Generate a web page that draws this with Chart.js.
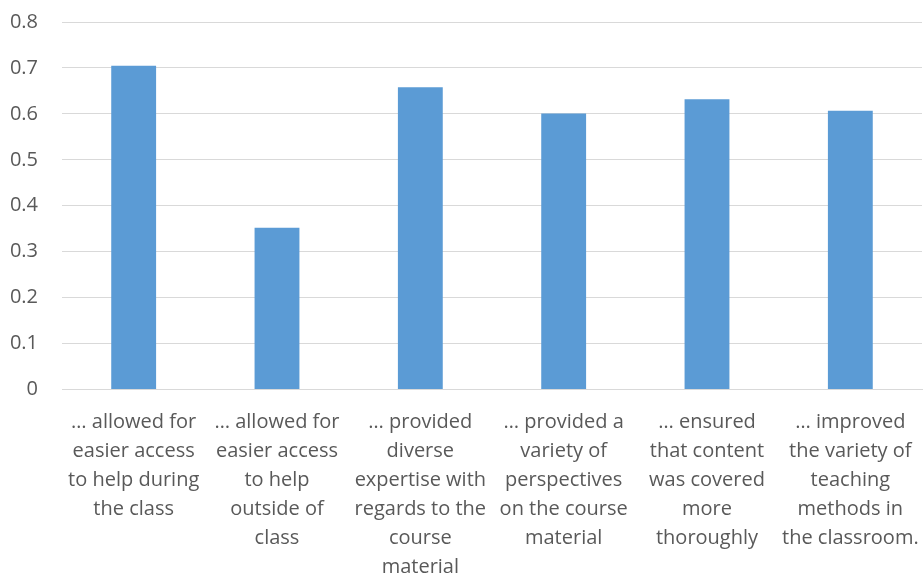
<!DOCTYPE html>
<html>
<head>
<meta charset="utf-8">
<script src="https://cdn.jsdelivr.net/npm/chart.js@4/dist/chart.umd.min.js"></script>
<style>
  html, body { margin: 0; padding: 0; background: #fff; }
  #wrap { width: 924px; height: 576px; }
</style>
</head>
<body>
<div id="wrap"><canvas id="chart"></canvas></div>
<script>
const categories = [
  ["… allowed for", "easier access", "to help during", "the class"],
  ["… allowed for", "easier access", "to help", "outside of", "class"],
  ["… provided", "diverse", "expertise with", "regards to the", "course", "material"],
  ["… provided a", "variety of", "perspectives", "on the course", "material"],
  ["… ensured", "that content", "was covered", "more", "thoroughly"],
  ["… improved", "the variety of", "teaching", "methods in", "the classroom."]
];
const values = [0.705, 0.352, 0.658, 0.601, 0.632, 0.607];
const yTicks = [0, 0.1, 0.2, 0.3, 0.4, 0.5, 0.6, 0.7, 0.8];

const textColor = "#595959";
const gridColor = "#d9d9d9";
const family = "'Open Sans', 'Liberation Sans', sans-serif";

new Chart(document.getElementById("chart"), {
  type: "bar",
  data: {
    labels: categories,
    datasets: [{
      data: values,
      backgroundColor: "#5b9bd5",
      borderWidth: 0,
      barPercentage: 0.313,
      categoryPercentage: 1
    }]
  },
  options: {
    responsive: true,
    maintainAspectRatio: false,
    animation: false,
    layout: { padding: { top: 22, right: 2, left: 0, bottom: 0 } },
    plugins: { legend: { display: false }, tooltip: { enabled: false } },
    scales: {
      x: {
        grid: { display: false },
        border: { color: gridColor, width: 1 },
        ticks: {
          color: textColor,
          font: { family: family, size: 20, lineHeight: 1.45 },
          padding: 10,
          maxRotation: 0,
          autoSkip: false
        },
        afterFit: scale => {
          scale.height = 186.5;
          scale.paddingLeft = 0;
          scale.paddingRight = 0;
        }
      },
      y: {
        min: 0,
        max: 0.8,
        afterBuildTicks: scale => { scale.ticks = yTicks.map(v => ({ value: v })); },
        grid: { color: gridColor, lineWidth: 1, drawTicks: false },
        border: { display: false },
        ticks: {
          color: textColor,
          font: { family: family, size: 20 },
          padding: 24,
          callback: v => String(v)
        },
        afterFit: scale => {
          scale.width = 62;
          scale.paddingTop = 0;
          scale.paddingBottom = 0;
        }
      }
    }
  }
});
</script>
</body>
</html>
